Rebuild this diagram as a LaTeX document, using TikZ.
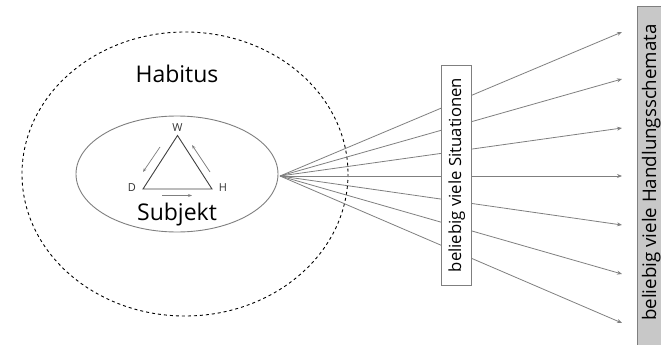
\documentclass[tikz,border=0pt]{standalone}
\usepackage{fontspec}
\setmainfont{Open Sans}
\usetikzlibrary{arrows.meta}
\definecolor{ln}{HTML}{7F7F7F}
\definecolor{boxgray}{HTML}{C8C8C8}
\tikzset{
  fan/.style={draw=ln, line width=0.8pt, -{Stealth[length=5pt,width=4pt]}},
  tri/.style={draw=black!75, line width=0.9pt},
  smallarr/.style={draw=ln, line width=0.7pt, -{Stealth[length=4pt,width=3pt]}},
  lbl/.style={font=\fontsize{11}{13}\selectfont, text=black!80, inner sep=0pt},
  big/.style={font=\fontsize{23}{26}\selectfont, inner sep=0pt},
  vtext/.style={rotate=90, inner sep=0pt}
}
\begin{document}
\begin{tikzpicture}[x=1pt,y=-1pt]
\useasboundingbox (0,0) rectangle (661,345);
% outer dashed ellipse
\draw[dashed, line width=0.9pt] (185,174) ellipse [x radius=163, y radius=142];
% inner ellipse
\draw[draw=ln, line width=0.9pt] (177,174) ellipse [x radius=101, y radius=58];
\coordinate (src) at (280,176);
% targets
\foreach \i/\y in {1/32,2/79,3/128,4/176,5/225,6/274,7/323}{
  \coordinate (t\i) at (622,\y);
  \draw[fan] (src) -- (t\i);
}
% situations box
\node[draw=ln, fill=white, line width=0.8pt, minimum width=30pt, minimum height=220pt, inner sep=0pt] (sit) at (456.7,175) {};
\node[vtext, font=\fontsize{16.7}{19}\selectfont] (sittext) at (sit.center) {beliebig viele Situationen};
% gray box
\node[draw=ln, fill=boxgray, line width=0.8pt, minimum width=30pt, minimum height=342pt, inner sep=0pt, anchor=north west] (hand) at (637,6) {};
\node[vtext, font=\fontsize{18.7}{21}\selectfont, anchor=base] (handtext) at (656,172.5) {beliebig viele Handlungsschemata};
% texts
\node[big] (hab) at (177,74) {Habitus};
\node[big] (sub) at (177,215) {Subjekt};
% triangle
\coordinate (W) at (177.5,135.5);
\coordinate (D) at (143,189);
\coordinate (H) at (212,189);
\draw[tri] (W) -- (D) -- (H) -- cycle;
\node[lbl] (wl) at (177.5,128) {W};
\node[lbl] (dl) at (132,188) {D};
\node[lbl] (hl) at (223,188) {H};
\coordinate (a1s) at (160,147); \coordinate (a1e) at (143,172);
\coordinate (a2s) at (210,172); \coordinate (a2e) at (192,145);
\coordinate (a3s) at (162,195.5); \coordinate (a3e) at (192,195.5);
\draw[smallarr] (a1s) -- (a1e);
\draw[smallarr] (a2s) -- (a2e);
\draw[smallarr] (a3s) -- (a3e);
\end{tikzpicture}
\end{document}
